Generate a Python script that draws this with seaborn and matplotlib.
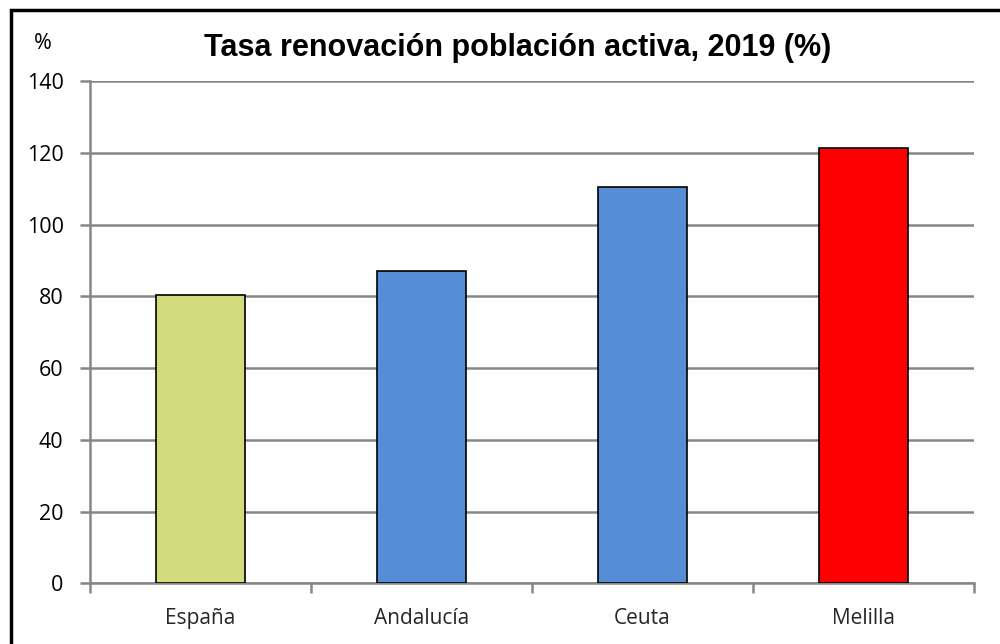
import matplotlib
matplotlib.use('Agg')
import matplotlib.pyplot as plt
import matplotlib.patches as patches
import seaborn as sns
import pandas as pd

regiones = ['España', 'Andalucía', 'Ceuta', 'Melilla']
tasa = [80.4, 87.2, 110.6, 121.5]
colores = ['#D4DB7C', '#558ED5', '#558ED5', '#FF0000']
yticks = [0, 20, 40, 60, 80, 100, 120, 140]

sns.set_style('white')
plt.rcParams['font.family'] = ['Open Sans', 'DejaVu Sans']

df = pd.DataFrame({'region': regiones, 'tasa': tasa})

fig = plt.figure(figsize=(10, 6.44), dpi=100)
ax = fig.add_axes([0.09, 0.094, 0.884, 0.78])

sns.barplot(data=df, x='region', y='tasa', hue='region', palette=colores,
            saturation=1, width=0.4, edgecolor='black', linewidth=1.2,
            legend=False, zorder=3, ax=ax)

gris = '#878787'
ax.set_ylim(0, 140)
ax.set_xlim(-0.5, len(regiones) - 0.5)
ax.set_yticks(yticks)
ax.set_yticklabels([str(v) for v in yticks], fontsize=15.5)
ax.yaxis.grid(True, color=gris, linewidth=1.8, zorder=0)
ax.set_axisbelow(True)
ax.tick_params(axis='y', left=True, length=7, width=1.8, color=gris, pad=12,
               labelcolor='black')

# etiquetas en el centro, marcas entre categorías
ax.tick_params(axis='x', which='major', bottom=True, length=0, pad=18,
               labelsize=15, labelcolor='#262626')
ax.set_xticks([i - 0.5 for i in range(len(regiones) + 1)], minor=True)
ax.tick_params(axis='x', which='minor', bottom=True, length=7, width=1.8,
               color=gris, direction='out')
ax.set_xlabel('')
ax.set_ylabel('')

for side in ['top', 'right']:
    ax.spines[side].set_visible(False)
for side in ['left', 'bottom']:
    ax.spines[side].set_color(gris)
    ax.spines[side].set_linewidth(1.8)

fig.text(0.518, 0.925, 'Tasa renovación población activa, 2019 (%)',
         ha='center', va='center', fontsize=22, fontweight='bold', color='black',
         family=['Liberation Sans', 'DejaVu Sans'])
fig.text(0.043, 0.933, '%', ha='center', va='center', fontsize=15.5, color='black')

# marco del gráfico
marco = patches.Rectangle((0.0105, -0.1), 1.2, 1.1 - 0.0155, transform=fig.transFigure,
                          fill=False, edgecolor='black', linewidth=2.5, clip_on=False)
fig.patches.append(marco)

fig.savefig('out.png', dpi=100)
